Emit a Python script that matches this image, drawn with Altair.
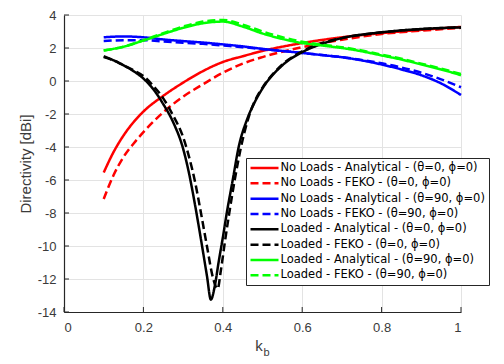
import altair as alt
import pandas as pd

labels = [
    "No Loads - Analytical - (θ=0, ϕ=0)",
    "No Loads - FEKO - (θ=0, ϕ=0)",
    "No Loads - Analytical - (θ=90, ϕ=0)",
    "No Loads - FEKO - (θ=90, ϕ=0)",
    "Loaded - Analytical - (θ=0, ϕ=0)",
    "Loaded - FEKO - (θ=0, ϕ=0)",
    "Loaded - Analytical - (θ=90, ϕ=0)",
    "Loaded - FEKO - (θ=90, ϕ=0)",
]
colors = ["#ff0000", "#ff0000", "#0000ff", "#0000ff", "#000000", "#000000", "#00ff00", "#00ff00"]
dashes = [[1, 0], [8, 4], [1, 0], [8, 4], [1, 0], [8, 4], [1, 0], [8, 4]]

kb_red = [0.1, 0.125, 0.15, 0.175, 0.2, 0.25, 0.3, 0.35, 0.4, 0.45, 0.5, 0.6, 0.7, 0.8, 0.9, 1.0]
red_analytical = [-5.55, -4.3, -3.3, -2.5, -1.85, -0.9, -0.1, 0.6, 1.15, 1.5, 1.82, 2.3, 2.65, 2.9, 3.1, 3.28]
red_feko = [-7.15, -5.7, -4.6, -3.8, -3.1, -1.9, -0.95, -0.2, 0.5, 1.05, 1.45, 2.05, 2.5, 2.85, 3.05, 3.22]

kb_bg = [0.1, 0.15, 0.2, 0.25, 0.3, 0.35, 0.4, 0.45, 0.5, 0.55, 0.6, 0.65, 0.7, 0.75, 0.8, 0.85, 0.9, 0.95, 1.0]
blue_analytical = [2.65, 2.7, 2.65, 2.52, 2.42, 2.33, 2.22, 2.1, 1.95, 1.82, 1.7, 1.57, 1.44, 1.25, 1.0, 0.7, 0.35, -0.15, -0.85]
blue_feko = [2.42, 2.47, 2.47, 2.4, 2.32, 2.25, 2.15, 2.05, 1.93, 1.82, 1.7, 1.57, 1.45, 1.27, 1.07, 0.82, 0.5, 0.1, -0.38]
green_analytical = [1.85, 2.08, 2.45, 2.85, 3.22, 3.5, 3.6, 3.3, 2.88, 2.55, 2.3, 2.15, 2.0, 1.8, 1.55, 1.3, 1.0, 0.7, 0.35]
green_feko = [1.85, 2.08, 2.47, 2.9, 3.3, 3.6, 3.7, 3.42, 3.0, 2.65, 2.38, 2.2, 2.05, 1.85, 1.6, 1.35, 1.05, 0.75, 0.42]

kb_black_an = [0.1, 0.125, 0.15, 0.175, 0.2, 0.225, 0.25, 0.275, 0.3, 0.315, 0.33, 0.345, 0.36, 0.37,
               0.38, 0.39, 0.4, 0.41, 0.425, 0.44, 0.46, 0.48, 0.5, 0.55, 0.6, 0.65, 0.7, 0.8, 0.9, 1.0]
black_analytical = [1.5, 1.25, 0.95, 0.6, 0.15, -0.5, -1.4, -2.5, -4.1, -5.6, -7.5, -9.6, -11.8, -13.25,
                    -12.4, -10.9, -9.5, -8.0, -6.0, -4.0, -2.4, -1.3, -0.45, 0.95, 1.75, 2.25, 2.6, 2.95, 3.15, 3.25]
kb_black_fk = [0.1, 0.125, 0.15, 0.175, 0.2, 0.225, 0.25, 0.275, 0.3, 0.315, 0.33, 0.345, 0.36, 0.375,
               0.387, 0.395, 0.405, 0.415, 0.43, 0.445, 0.465, 0.485, 0.5, 0.55, 0.6, 0.65, 0.7, 0.8, 0.9, 1.0]
black_feko = [1.45, 1.25, 0.95, 0.65, 0.3, -0.3, -1.05, -2.1, -3.4, -4.6, -6.1, -8.0, -10.0, -11.9,
              -12.6, -11.5, -9.8, -8.2, -6.0, -4.1, -2.2, -1.0, -0.4, 1.0, 1.8, 2.3, 2.6, 2.95, 3.15, 3.25]

x_ticks = [0, 0.2, 0.4, 0.6, 0.8, 1]
y_ticks = [4, 2, 0, -2, -4, -6, -8, -10, -12, -14]

series = [
    (labels[0], kb_red, red_analytical),
    (labels[1], kb_red, red_feko),
    (labels[2], kb_bg, blue_analytical),
    (labels[3], kb_bg, blue_feko),
    (labels[4], kb_black_an, black_analytical),
    (labels[5], kb_black_fk, black_feko),
    (labels[6], kb_bg, green_analytical),
    (labels[7], kb_bg, green_feko),
]
rows = []
for i, (lab, xs, ys) in enumerate(series):
    for x, y in zip(xs, ys):
        rows.append({"series": lab, "kb": x, "D": y, "s": i})
df = pd.DataFrame(rows)

W, H = 397, 297
TXT = "#3a3a3a"
LEG_FONT = "DejaVu Sans"
LEG_SIZE = 11.5

legend = alt.Legend(
    title=None, orient="none", legendX=182, legendY=143,
    labelFont=LEG_FONT, labelFontSize=LEG_SIZE, labelColor="#000000", labelLimit=400,
    symbolType="M-1.1,0L4.5,0", symbolSize=100, symbolStrokeWidth=2.5,
    labelOffset=18, rowPadding=3.33, padding=3.5,
    strokeColor="#262626", fillColor="#ffffff",
)

x_scale = alt.Scale(domain=[0, 1], nice=False, zero=False)
y_scale = alt.Scale(domain=[-14, 4], nice=False, zero=False)

x_axis = alt.Axis(values=x_ticks, title=None, labelExpr="'' + datum.value", labelPadding=9,
                  labelOverlap=False)
y_axis = alt.Axis(values=y_ticks, title="Directivity [dBi]", labelExpr="'' + datum.value",
                  labelPadding=8, labelOverlap=False,
                  titlePadding=4, titleFontSize=15, titleFont="Liberation Sans",
                  titleFontWeight="normal", titleColor=TXT)

lines = alt.Chart(df).mark_line(strokeWidth=2.5, interpolate="monotone").encode(
    x=alt.X("kb:Q", scale=x_scale, axis=x_axis),
    y=alt.Y("D:Q", scale=y_scale, axis=y_axis),
    color=alt.Color("series:N", scale=alt.Scale(domain=labels, range=colors), legend=legend),
    strokeDash=alt.StrokeDash("series:N", scale=alt.Scale(domain=labels, range=dashes), legend=legend),
    order=alt.Order("s:Q"),
)

xt = alt.Chart(pd.DataFrame({"kb": x_ticks})).mark_rule(color="#262626", strokeWidth=1).encode(
    x=alt.X("kb:Q", scale=x_scale, axis=x_axis), y=alt.value(H), y2=alt.value(H - 5))
yt = alt.Chart(pd.DataFrame({"D": y_ticks})).mark_rule(color="#262626", strokeWidth=1).encode(
    y=alt.Y("D:Q", scale=y_scale, axis=y_axis), x=alt.value(0), x2=alt.value(5))

k_txt = alt.Chart(pd.DataFrame({"t": ["k"]})).mark_text(
    font="Liberation Sans", fontSize=15, color=TXT, align="center", baseline="alphabetic").encode(
    text="t:N", x=alt.value(195), y=alt.value(336))
b_txt = alt.Chart(pd.DataFrame({"t": ["b"]})).mark_text(
    font="Liberation Sans", fontSize=11, color=TXT, align="center", baseline="alphabetic").encode(
    text="t:N", x=alt.value(202.5), y=alt.value(340.5))

chart = alt.layer(lines, xt, yt, k_txt, b_txt).properties(
    width=W, height=H,
    padding={"left": 56, "top": 7, "right": 35, "bottom": 44},
    autosize=alt.AutoSizeParams(type="none"),
).configure_view(stroke=None).configure_axis(
    labelFont="Liberation Sans", labelFontSize=13, labelColor=TXT,
    domainColor="#262626", domainWidth=1.2,
    gridColor="#e3e3e3", gridWidth=1, grid=True,
    ticks=False, tickSize=0, labelOverlap=False,
).configure_legend(
    labelFont=LEG_FONT, labelFontSize=LEG_SIZE, labelColor="#000000",
)

chart.save("out.html", embed_options={"renderer": "svg", "actions": False})
